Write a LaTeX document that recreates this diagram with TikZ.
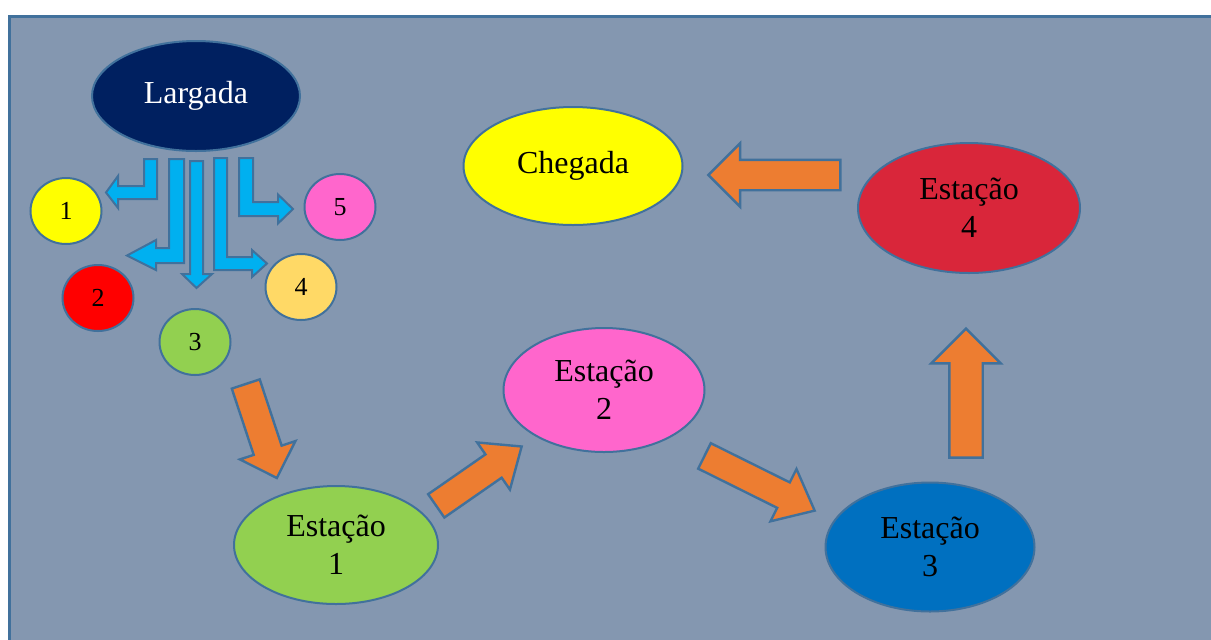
\documentclass[tikz,border=0pt]{standalone}
\usepackage{fontspec}
\setmainfont{Liberation Serif}
\usetikzlibrary{positioning, calc, shapes, shapes.arrows}
\definecolor{slate}{HTML}{8497B0}
\definecolor{rim}{HTML}{41719C}
\definecolor{navy}{HTML}{002060}
\definecolor{lemon}{HTML}{FFFF00}
\definecolor{grass}{HTML}{92D050}
\definecolor{pinky}{HTML}{FF66CC}
\definecolor{ocean}{HTML}{0070C0}
\definecolor{crimson}{HTML}{D9263A}
\definecolor{gold}{HTML}{FFD966}
\definecolor{tangerine}{HTML}{ED7D31}
\definecolor{sky}{HTML}{00B0F0}
\tikzset{
station/.style = {ellipse, draw = rim, line width = 1pt, inner sep = 0pt,
   align = center, font = \fontsize{16}{19}\selectfont},
runner/.style = {ellipse, draw = rim, line width = 1pt, inner sep = 0pt,
   minimum width = 35.5pt, minimum height = 33pt, font = \fontsize{13}{15}\selectfont},
blockarrow/.style = {single arrow, draw = rim, fill = tangerine, line width = 1.2pt,
   inner xsep = 0pt, single arrow head indent = 0pt},
bentarrow/.style = {draw = rim, fill = sky, line width = 1pt, line join = miter}
}

\begin{document}
\begin{tikzpicture}[x = 0.5pt, y = -0.5pt]

\useasboundingbox (0, 0) rectangle (1211, 639);

%% Frame
\path [fill = white] (0, 0) rectangle (1211, 639);
\draw [fill = slate, draw = rim, line width = 1.5pt] (9, 16) rectangle (1240, 670);

%% Start and finish
\node [station, fill = navy, text = white, minimum width = 104pt, minimum height = 55pt]
   (start) at (196, 96) {Largada};
\node [station, fill = lemon, minimum width = 109.5pt, minimum height = 59pt]
   (finish) at (573, 166) {Chegada};

%% Stations
\foreach \i/\x/\y/\c/\w/\h in {1/336/545/grass/102/59, 2/604/390/pinky/100.5/62,
   3/930/547/ocean/104.5/64.5, 4/969/208/crimson/111/65} {
   \node [station, fill = \c, minimum width = \w pt, minimum height = \h pt]
      (st\i) at (\x, \y) {Estação\\\i};
}

%% Runners
\foreach \i/\x/\y/\c in {1/66/211/lemon, 2/98/298/red, 3/195/342/grass,
   4/301/287/gold, 5/340/207/pinky} {
   \node [runner, fill = \c] (r\i) at (\x, \y) {\i};
}

%% Split arrows
\path [bentarrow] (144, 159) -- (157, 159) -- (157, 199) -- (118, 199) -- (118, 208)
   -- (106, 192.5) -- (118, 176) -- (118, 186) -- (144, 186) -- cycle;
\path [bentarrow] (169, 159) -- (184, 159) -- (184, 263) -- (156, 263) -- (156, 270)
   -- (127, 255.5) -- (156, 240) -- (156, 248) -- (169, 248) -- cycle;
\path [bentarrow] (190, 161) -- (203, 161) -- (203, 274) -- (212, 274) -- (196.5, 288)
   -- (182, 274) -- (190, 274) -- cycle;
\path [bentarrow] (214, 158) -- (227, 158) -- (227, 257) -- (252, 257) -- (252, 250)
   -- (267, 263.5) -- (252, 277) -- (252, 270) -- (214, 270) -- cycle;
\path [bentarrow] (239, 158) -- (253, 158) -- (253, 202) -- (278, 202) -- (278, 194.5)
   -- (293, 209) -- (278, 223.5) -- (278, 216) -- (239, 216) -- cycle;

%% Route
\node [blockarrow, rotate = -71.7, minimum height = 49.5pt, inner ysep = 6.75pt,
   single arrow head extend = 7.25pt] (go1) at (259, 424) {};
\node [blockarrow, rotate = 34.8, minimum height = 52pt, inner ysep = 6.5pt,
   single arrow head extend = 7.25pt, single arrow tip angle = 80] (go2) at (472, 481) {};
\node [blockarrow, rotate = -26.4, minimum height = 61.5pt, inner ysep = 6.5pt,
   single arrow head extend = 7.5pt, single arrow tip angle = 80] (go3) at (752, 479.5) {};
\node [blockarrow, rotate = 90, minimum height = 64.5pt, inner ysep = 7.75pt,
   single arrow head extend = 9pt] (go4) at (966, 401.5) {};
\node [blockarrow, rotate = 180, minimum height = 66pt, inner ysep = 7pt,
   single arrow head extend = 8.25pt] (go5) at (782, 175) {};

\end{tikzpicture}
\end{document}
